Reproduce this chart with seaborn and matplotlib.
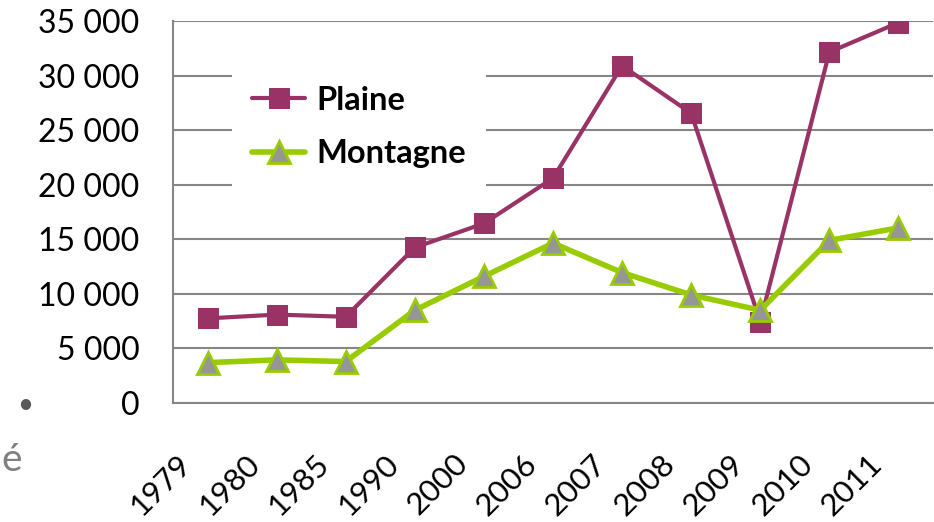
import matplotlib
matplotlib.use("Agg")
import matplotlib.pyplot as plt
import matplotlib.transforms as mtransforms
from matplotlib.ticker import FuncFormatter, MultipleLocator
import seaborn as sns
import pandas as pd

# data
years = ["1979", "1980", "1985", "1990", "2000", "2006", "2007", "2008", "2009", "2010", "2011"]
plaine = [7750, 8100, 7900, 14250, 16450, 20600, 30900, 26550, 7450, 32150, 34850]
montagne = [3700, 3950, 3800, 8500, 11600, 14650, 11950, 9900, 8500, 14900, 16050]

df = pd.DataFrame({"Année": years, "Plaine": plaine, "Montagne": montagne})

sns.set_theme(style="white")
plt.rcParams["font.family"] = ["Lato", "DejaVu Sans"]
plt.rcParams["text.color"] = "black"

fig = plt.figure(figsize=(9.34, 5.22), dpi=100)
ax = fig.add_axes([173 / 934, 119 / 522, 760 / 934, 382 / 522])

grid_col = "#868686"
ax.set_ylim(0, 35000)
ax.set_xlim(-0.5, len(years) - 0.5)
ax.yaxis.set_major_locator(MultipleLocator(5000))
ax.yaxis.grid(True, color=grid_col, linewidth=1.5)
ax.set_axisbelow(True)

sns.lineplot(data=df, x="Année", y="Plaine", ax=ax, color="#993366", linewidth=3,
             marker="s", markersize=14, markeredgecolor="#993366", label="Plaine", zorder=3)
sns.lineplot(data=df, x="Année", y="Montagne", ax=ax, color="#99CC00", linewidth=4,
             marker="^", markersize=16, markerfacecolor="#969696", markeredgecolor="#99CC00",
             markeredgewidth=2, label="Montagne", zorder=4)

ax.set_xlabel("")
ax.set_ylabel("")
for side in ["top", "right"]:
    ax.spines[side].set_visible(False)
for side in ["left", "bottom"]:
    ax.spines[side].set_color(grid_col)
    ax.spines[side].set_linewidth(1.5)

ax.yaxis.set_major_formatter(FuncFormatter(lambda v, p: f"{int(v):,}".replace(",", " ")))
ax.tick_params(axis="y", length=0, pad=24, labelsize=23, labelcolor="black")
ax.tick_params(axis="x", length=0, pad=0, labelsize=22.5, labelcolor="black")

shift = mtransforms.ScaledTranslation(-21 / 100, -56 / 100, fig.dpi_scale_trans)
for lab in ax.get_xticklabels():
    lab.set_rotation(45)
    lab.set_ha("right")
    lab.set_va("center")
    lab.set_rotation_mode("anchor")
    lab.set_transform(lab.get_transform() + shift)

leg = ax.legend(loc="upper left", bbox_to_anchor=(59 / 760, 1 - 45 / 382), frameon=True,
                fancybox=False, edgecolor="white", framealpha=1, handlelength=1.65,
                handletextpad=0.35, labelspacing=0.75, borderpad=0.6, borderaxespad=0,
                prop={"size": 23.5, "weight": "bold"})
leg.get_frame().set_linewidth(0)
for t in leg.get_texts():
    t.set_color("black")

# stray slide glyphs on the left edge
fig.text(25 / 934, 1 - 405 / 522, "•", fontsize=20, color="#595959", ha="center", va="center")
fig.text(12 / 934, 1 - 460 / 522, "é", fontsize=28, color="#7f7f7f", ha="center", va="center")

fig.savefig("out.png", dpi=100)
